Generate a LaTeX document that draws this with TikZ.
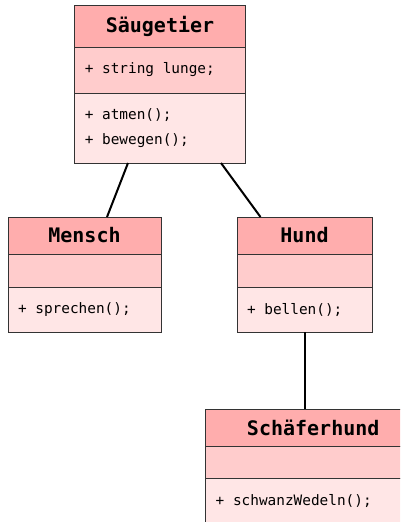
\documentclass[tikz,border=0pt]{standalone}
\usepackage{fontspec}
\setmonofont{DejaVu Sans Mono}
\usetikzlibrary{positioning}

\definecolor{headred}{RGB}{255,173,173}
\definecolor{attrred}{RGB}{255,204,204}
\definecolor{methred}{RGB}{255,230,230}

\begin{document}
\begin{tikzpicture}[x=1pt, y=-1pt,
  part/.style={draw=black!80, line width=0.9pt, outer sep=0pt,
               inner xsep=10pt, inner ysep=0pt, text width=#1},
  head/.style={part=#1, fill=headred, align=center,
               font=\ttfamily\bfseries\fontsize{20}{24}\selectfont},
  attr/.style={part=#1, fill=attrred, align=left,
               font=\ttfamily\fontsize{14.4}{25}\selectfont,
               execute at begin node={\spaceskip 8.67pt\relax\xspaceskip 8.67pt\relax}},
  meth/.style={attr=#1, fill=methred},
  link/.style={line width=2pt, black}]

\useasboundingbox (0,0) rectangle (400,522);
\clip (0,0) rectangle (400,522);

% Basisklasse
\node[head=150.5pt, minimum height=42pt, anchor=north] (saeug) at (160,5) {Säugetier};
\node[attr=150.5pt, minimum height=46pt, below=0pt of saeug] (saeugattr) {+ string lunge;};
\node[meth=150.5pt, minimum height=70pt, below=0pt of saeugattr] (saeugmeth) {+ atmen();\\+ bewegen();};

% abgeleitete Klassen
\node[head=133pt, minimum height=37pt, anchor=north] (mensch) at (84.5,217) {Mensch};
\node[attr=133pt, minimum height=33pt, below=0pt of mensch] (menschattr) {};
\node[meth=133pt, minimum height=45pt, below=0pt of menschattr] (menschmeth) {+ sprechen();};

\node[head=115pt, minimum height=37pt, anchor=north] (hund) at (304.5,217) {Hund};
\node[attr=115pt, minimum height=33pt, below=0pt of hund] (hundattr) {};
\node[meth=115pt, minimum height=45pt, below=0pt of hundattr] (hundmeth) {+ bellen();};

\node[head=195pt, minimum height=37pt, anchor=north] (schaef) at (313.2,409) {Schäferhund};
\node[attr=195pt, minimum height=32pt, below=0pt of schaef] (schaefattr) {};
\node[meth=195pt, minimum height=45pt, below=0pt of schaefattr] (schaefmeth) {+ schwanzWedeln();};

% Vererbung
\draw[link] ([xshift=-32pt]saeugmeth.south) -- ([xshift=22.5pt]mensch.north);
\draw[link] ([xshift=61pt]saeugmeth.south) -- ([xshift=-44pt]hund.north);
\draw[link] (hundmeth.south) -- (hundmeth.south |- schaef.north);
\end{tikzpicture}
\end{document}
